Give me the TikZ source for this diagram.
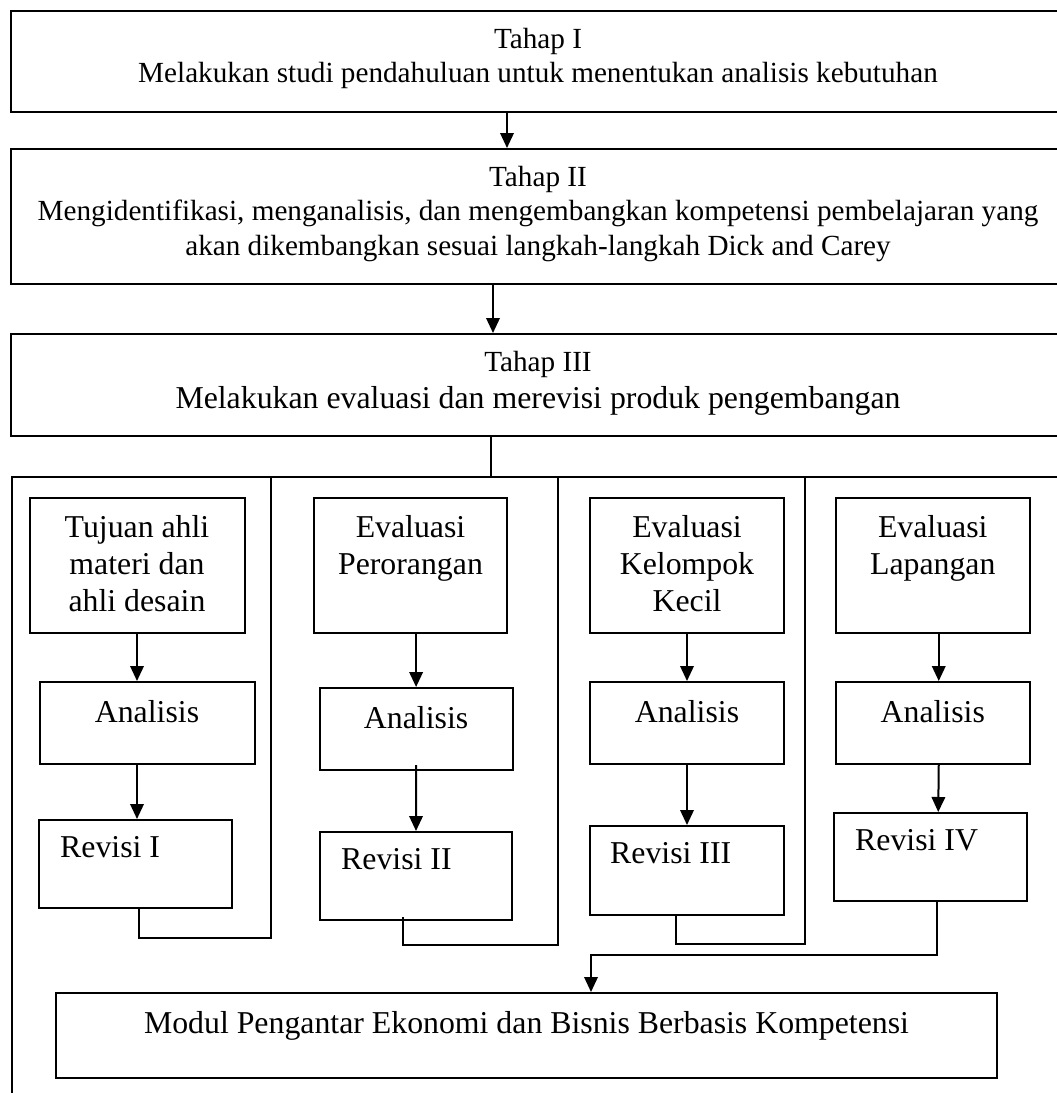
\documentclass[tikz,border=0pt]{standalone}
\usepackage{fontspec}
\setmainfont{Liberation Serif}
\usetikzlibrary{positioning,arrows.meta,calc}
\newcommand{\tahapfont}{\fontsize{29.2}{34.5}\selectfont}
\newcommand{\isifont}{\fontsize{31.8}{37}\selectfont}

\begin{document}
\begin{tikzpicture}[x=1pt,y=-1pt,
  box/.style={draw,line width=2pt,anchor=north west,inner sep=0pt},
  txt/.style={inner sep=0pt,align=center,font=\isifont},
  revtxt/.style={inner sep=0pt,align=left,font=\isifont},
  arrow/.style={-{Triangle[length=15pt,width=13.5pt]},line width=2pt},
  link/.style={line width=2pt}]
\useasboundingbox (0,0) rectangle (1057,1093);
\node[box,minimum width=1054pt,minimum height=101pt] (t1) at (10,10) {};
\node[box,minimum width=1054pt,minimum height=135pt] (t2) at (10,148) {};
\node[box,minimum width=1054pt,minimum height=102pt] (t3) at (10,333) {};
\node[box,minimum width=1053pt,minimum height=640pt] (frame) at (10.5,476) {};
\node[txt,font=\tahapfont,below=18pt of t1.north] (t1l) {Tahap I\\Melakukan studi pendahuluan untuk menentukan analisis kebutuhan};
\node[txt,font=\tahapfont,below=18pt of t2.north] (t2l) {Tahap II\\Mengidentifikasi, menganalisis, dan mengembangkan kompetensi pembelajaran yang\\akan dikembangkan sesuai langkah-langkah Dick and Carey};
\node[txt,below=18pt of t3.north] (t3l) {{\tahapfont Tahap III}\\Melakukan evaluasi dan merevisi produk pengembangan};
\node[box,minimum width=215pt,minimum height=135pt] (ev1) at (28.5,497) {};
\node[box,minimum width=215pt,minimum height=82pt] (an1) at (38.5,681) {};
\node[box,minimum width=193pt,minimum height=88pt] (rev1) at (38,819) {};
\node[box,minimum width=193pt,minimum height=135pt] (ev2) at (313,497) {};
\node[box,minimum width=193pt,minimum height=82pt] (an2) at (318.6,687) {};
\node[box,minimum width=192pt,minimum height=88pt] (rev2) at (319,831) {};
\node[box,minimum width=194pt,minimum height=135pt] (ev3) at (589,497) {};
\node[box,minimum width=194pt,minimum height=82pt] (an3) at (589,681) {};
\node[box,minimum width=194pt,minimum height=89pt] (rev3) at (589,825) {};
\node[box,minimum width=193.5pt,minimum height=135pt] (ev4) at (835,497) {};
\node[box,minimum width=193.5pt,minimum height=82pt] (an4) at (835,681) {};
\node[box,minimum width=193pt,minimum height=88pt] (rev4) at (833,812) {};
\node[box,minimum width=941pt,minimum height=85pt] (modul) at (55,992) {};
\node[txt,below=18pt of ev1.north] (ev1l) {Tujuan ahli\\materi dan\\ahli desain};
\node[txt,below=18pt of ev2.north] (ev2l) {Evaluasi\\Perorangan};
\node[txt,below=18pt of ev3.north] (ev3l) {Evaluasi\\Kelompok\\Kecil};
\node[txt,below=18pt of ev4.north] (ev4l) {Evaluasi\\Lapangan};
\node[txt,below=19pt of an1.north] (an1l) {Analisis};
\node[txt,below=19pt of an2.north] (an2l) {Analisis};
\node[txt,below=19pt of an3.north] (an3l) {Analisis};
\node[txt,below=19pt of an4.north] (an4l) {Analisis};
\node[revtxt,below right=17.4pt and 22pt of rev1.north west] (rev1l) {Revisi I};
\node[revtxt,below right=17.4pt and 22pt of rev2.north west] (rev2l) {Revisi II};
\node[revtxt,below right=17.4pt and 21pt of rev3.north west] (rev3l) {Revisi III};
\node[revtxt,below right=17.4pt and 22pt of rev4.north west] (rev4l) {Revisi IV};
\node[txt,below=19.3pt of modul.north] (modull) {Modul Pengantar Ekonomi dan Bisnis Berbasis Kompetensi};
\coordinate (div1) at (271,478);
\coordinate (div2) at (558,476);
\coordinate (div3) at (805,476);
\draw[arrow] ($(t1.south)+(-31,0)$) -- ($(t2.north)+(-31,0)$);
\draw[arrow] ($(t2.south)+(-45,0)$) -- ($(t3.north)+(-45,0)$);
\draw[link] ($(t3.south)+(-47,0)$) -- ($(frame.north)+(-47,0)$);
\draw[arrow] (ev1.south) -- (ev1.south |- an1.north);
\draw[arrow] (ev1.south |- an1.south) -- (ev1.south |- rev1.north);
\draw[arrow] (an2.north |- ev2.south) -- (an2.north);
\draw[arrow] ([yshift=6pt]an2.south) -- (rev2.north);
\draw[arrow] (ev3.south) -- (an3.north);
\draw[arrow] (an3.south) -- (rev3.north);
\draw[arrow] ($(ev4.south)+(6,0)$) -- ($(an4.north)+(6,0)$);
\draw[arrow] ($(an4.south)+(6,0)$) -- ($(rev4.north)+(7.75,0)$);
\draw[link] ([xshift=3pt]rev1.south) -- ++(0,29) -| (div1);
\draw[link] ([xshift=-13pt,yshift=4pt]rev2.south) -- ++(0,28) -| (div2);
\draw[link] ([xshift=-11.5pt]rev3.south) -- ++(0,28) -| (div3);
\draw[arrow] ([xshift=6.5pt]rev4.south) -- ++(0,53) -| ($(modul.north)+(64.5,0)$);
\end{tikzpicture}
\end{document}
